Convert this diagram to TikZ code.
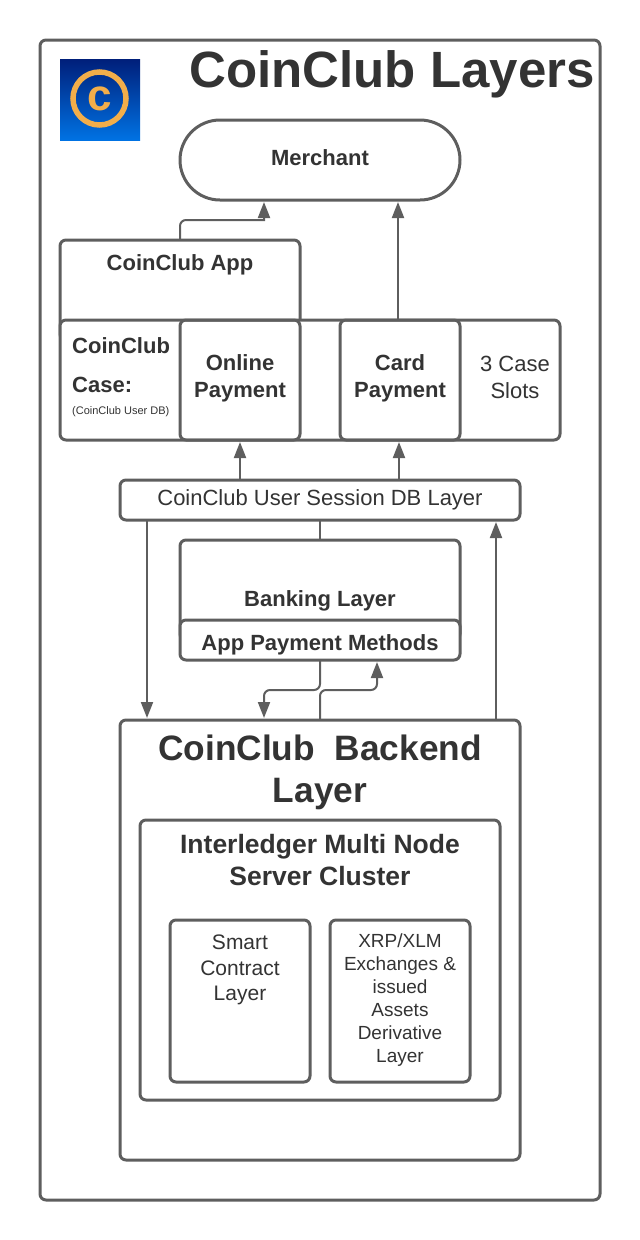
\documentclass[tikz,border=0pt]{standalone}
\usepackage{fontspec}
\setmainfont{Liberation Sans}
\usetikzlibrary{arrows.meta}
\definecolor{linegray}{HTML}{5E5E5E}
\definecolor{textgray}{HTML}{333333}
\definecolor{logotop}{HTML}{001F7A}
\definecolor{logobottom}{HTML}{0072E3}
\definecolor{logoring}{HTML}{F2AE4A}
\tikzset{
  box/.style={draw=linegray,line width=3pt,rounded corners=6pt,inner sep=0pt,outer sep=0pt,align=center,text=textgray},
  txt/.style={inner sep=0pt,align=center,text=textgray},
  link/.style={draw=linegray,line width=2pt,rounded corners=6pt},
  arrow/.style={link,-{Triangle[length=16pt,width=12pt]},shorten >=2pt},
}
\begin{document}
\begin{tikzpicture}[x=1pt,y=-1pt]
  \useasboundingbox (0,0) rectangle (640,1240);
  \node [box,minimum width=560,minimum height=1160] (outer) at (320,620) {};
  \node [txt,font=\bfseries\fontsize{51}{56}\selectfont] (title) at (392,74) {CoinClub Layers};

  % logo
  \node [inner sep=0pt,outer sep=0pt,minimum width=80,minimum height=81,top color=logotop,bottom color=logobottom] (logo) at (100,99.5) {};
  \node [circle,draw=logoring,line width=5.5pt,minimum size=53,inner sep=0pt,text=logoring,font=\bfseries\fontsize{44}{46}\selectfont] (logoc) at (99.5,98.5) {\raisebox{-1pt}{c}};

  \node [box,rounded corners=40pt,minimum width=280,minimum height=80,font=\bfseries\fontsize{22}{26}\selectfont] (merchant) at (320,160) {\raisebox{4pt}{Merchant}};
  \node [box,minimum width=240,minimum height=100] (app) at (180,290) {};
  \node [txt,font=\bfseries\fontsize{22}{26}\selectfont] (apptxt) at (180,265) {CoinClub App};

  % case row
  \node [box,fill=white,minimum width=500,minimum height=120] (case) at (310,380) {};
  \node [box,minimum width=120,minimum height=120] (online) at (240,380) {};
  \node [txt,font=\bfseries\fontsize{22}{27}\selectfont] (onlinetxt) at (240,378.5) {Online\\Payment};
  \node [box,minimum width=120,minimum height=120] (card) at (400,380) {};
  \node [txt,font=\bfseries\fontsize{22}{27}\selectfont] (cardtxt) at (400,378.5) {Card\\Payment};
  \node [txt,font=\fontsize{22}{27}\selectfont] (slots) at (515,377) {3 Case\\Slots};
  \node [txt,anchor=west,font=\bfseries\fontsize{22}{26}\selectfont] (casea) at (72,346) {CoinClub};
  \node [txt,anchor=west,font=\bfseries\fontsize{22}{26}\selectfont] (caseb) at (72,385) {Case:};
  \node [txt,anchor=west,font=\fontsize{11}{13}\selectfont] (casec) at (72,412) {(CoinClub User DB)};

  \node [box,minimum width=400,minimum height=40,font=\fontsize{22}{26}\selectfont] (session) at (320,500) {CoinClub User Session DB Layer};

  % banking
  \node [box,minimum width=280,minimum height=100] (banking) at (320,590) {};
  \node [txt,font=\bfseries\fontsize{22}{26}\selectfont] (bankingtxt) at (320,601) {Banking Layer};
  \node [box,fill=white,minimum width=280,minimum height=40] (methods) at (320,640) {};
  \node [txt,font=\bfseries\fontsize{22}{26}\selectfont] (methodstxt) at (320,645) {App Payment Methods};

  % backend
  \node [box,minimum width=400,minimum height=440] (backend) at (320,940) {};
  \node [txt,font=\bfseries\fontsize{35.3}{42}\selectfont] (backendtxt) at (320,772) {CoinClub\ \ Backend\\Layer};
  \node [box,minimum width=360,minimum height=280] (cluster) at (320,960) {};
  \node [txt,font=\bfseries\fontsize{26.5}{32}\selectfont] (clustertxt) at (320,860) {Interledger Multi Node\\Server Cluster};
  \node [box,minimum width=140,minimum height=162] (smart) at (240,1001) {};
  \node [txt,font=\fontsize{21}{25.5}\selectfont] (smarttxt) at (240,970) {Smart\\Contract\\Layer};
  \node [box,minimum width=140,minimum height=162] (xrp) at (400,1001) {};
  \node [txt,font=\fontsize{19}{23}\selectfont] (xrptxt) at (400,1000) {XRP/XLM\\Exchanges \&\\issued\\Assets\\Derivative\\Layer};

  \coordinate (m1) at (264,200);
  \coordinate (m2) at (398,200);
  \coordinate (c1) at (398,320);
  \coordinate (c2) at (399,440);
  \coordinate (s1) at (399,480);
  \coordinate (s2) at (147,520);
  \coordinate (s3) at (496,520);
  \coordinate (b1) at (147,720);
  \coordinate (b2) at (496,720);
  \coordinate (b3) at (264,720);
  \coordinate (b4) at (377,660);
  \coordinate (h1) at (320,690);
  \coordinate (h2) at (180,220);

  \draw [arrow] (app.north) -- (h2) [sharp corners] -- (m1 |- h2) -- (m1);
  \draw [arrow] (c1) -- (m2);
  \draw [arrow] (session.north -| online.south) -- (online.south);
  \draw [arrow] (s1) -- (c2);
  \draw [arrow] (s2) -- (b1);
  \draw [arrow] (b2) -- (s3);
  \draw [link] (session.south) -- (banking.north);
  \draw [arrow] (methods.south) |- (b3 |- h1) -- (b3);
  \draw [arrow] (backend.north) |- (b4 |- h1) -- (b4);
\end{tikzpicture}
\end{document}
